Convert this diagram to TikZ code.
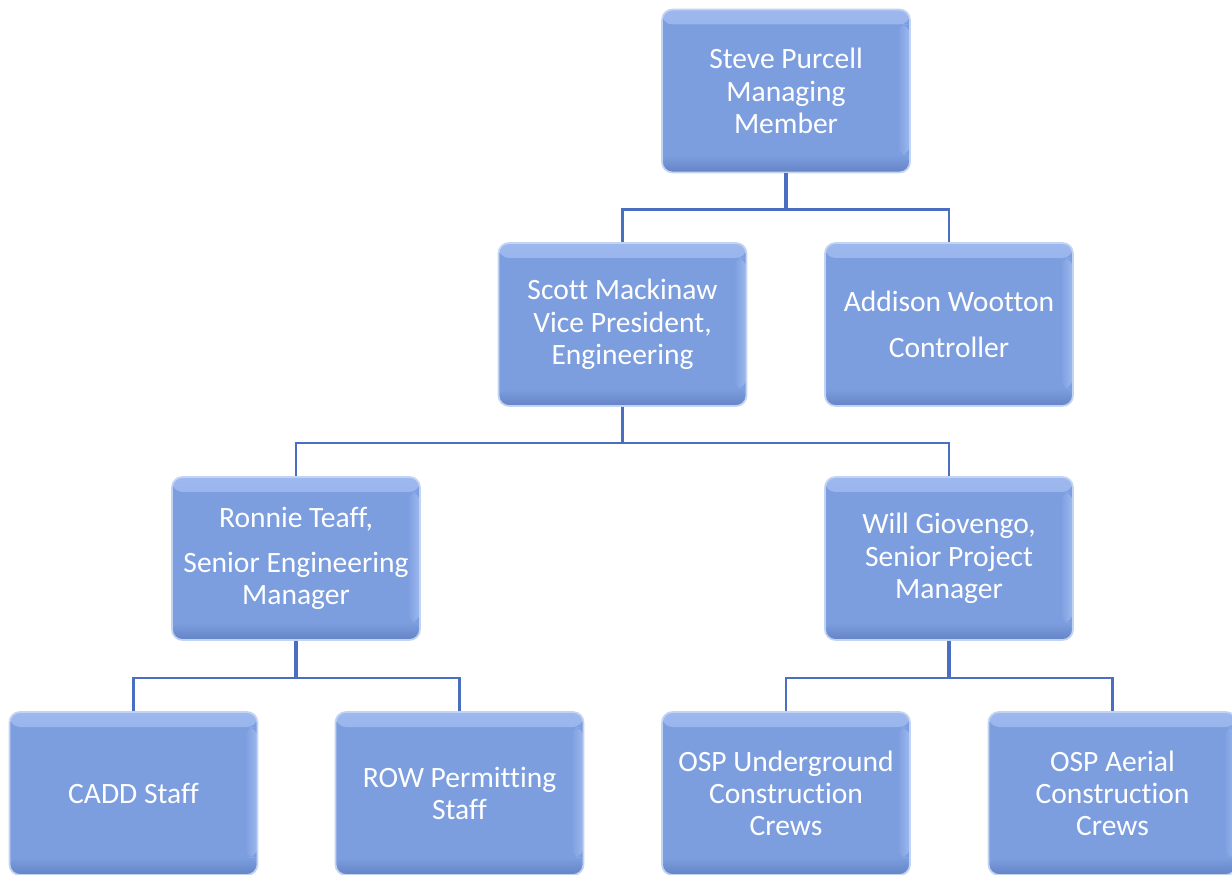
\documentclass[tikz,border=0pt]{standalone}
\usepackage{fontspec}
\setmainfont[Ligatures={NoCommon}]{Carlito}
\usetikzlibrary{calc}

\definecolor{boxfill}{HTML}{7C9EDF}
\definecolor{boxlight}{HTML}{9DB8EE}
\definecolor{boxdark}{HTML}{6483C4}
\definecolor{boxedge}{HTML}{C3D3F2}
\definecolor{linkblue}{HTML}{4A6FC0}

\tikzset{
  person/.style={rounded corners=6pt, fill=boxfill, draw=boxedge, line width=1pt,
    minimum width=4.96cm, minimum height=3.26cm, text=white, align=center,
    font=\fontsize{16.8}{18.4}\selectfont,
    path picture={
      \shade[top color=boxlight, bottom color=boxfill]
        (path picture bounding box.north west) rectangle ([yshift=-0.3cm]path picture bounding box.north east);
      \shade[top color=boxfill, bottom color=boxdark]
        ([yshift=0.35cm]path picture bounding box.south west) rectangle (path picture bounding box.south east);
      \shade[left color=boxfill, right color=boxlight]
        ([xshift=-0.25cm,yshift=-0.3cm]path picture bounding box.north east) rectangle ([yshift=0.35cm]path picture bounding box.south east);
    }},
  stem/.style={draw=linkblue, line width=2pt},
  link/.style={draw=linkblue, line width=1.4pt}
}

\begin{document}
\begin{tikzpicture}
    \useasboundingbox (0,0) rectangle (24.64,-17.5);

    % Boxes
    \node[person] (purcell) at (15.72,-1.82) {Steve Purcell\\Managing\\Member};
    \node[person] (mackinaw) at (12.45,-6.49) {Scott Mackinaw\\Vice President,\\Engineering};
    \node[person] (wootton) at (18.98,-6.49) {Addison Wootton\\[0.27cm]Controller};
    \node[person] (teaff) at (5.92,-11.17) {Ronnie Teaff,\\[0.24cm]Senior Engineering\\Manager};
    \node[person] (giovengo) at (18.98,-11.17) {Will Giovengo,\\Senior Project\\Manager};
    \node[person] (cadd) at (2.67,-15.87) {CADD Staff};
    \node[person] (row) at (9.19,-15.87) {ROW Permitting\\Staff};
    \node[person] (underground) at (15.72,-15.87) {OSP Underground\\Construction\\Crews};
    \node[person] (aerial) at (22.25,-15.87) {OSP Aerial\\Construction\\Crews};

    % Lines
    \draw[stem] (purcell.south) -- ++(0,-0.72) coordinate (bus1);
    \draw[link] (mackinaw.north) |- (bus1) -| (wootton.north);

    \draw[stem] (mackinaw.south) -- ++(0,-0.72) coordinate (bus2);
    \draw[link] (teaff.north) |- (bus2) -| (giovengo.north);

    \draw[stem] (teaff.south) -- ++(0,-0.74) coordinate (bus3);
    \draw[link] (cadd.north) |- (bus3) -| (row.north);

    \draw[stem] (giovengo.south) -- ++(0,-0.74) coordinate (bus4);
    \draw[link] (underground.north) |- (bus4) -| (aerial.north);

\end{tikzpicture}
\end{document}
